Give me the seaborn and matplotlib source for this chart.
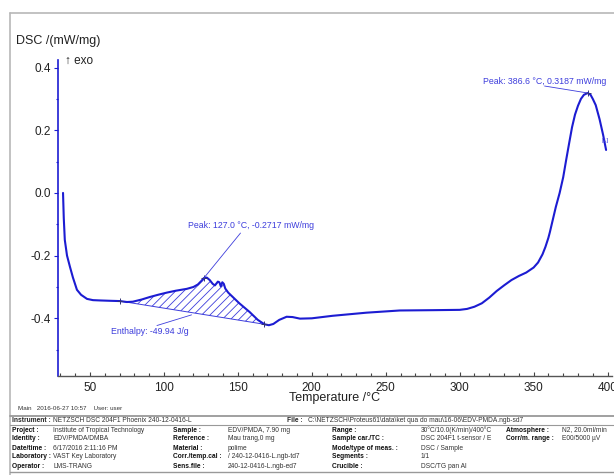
import matplotlib
matplotlib.use("Agg")
import matplotlib.pyplot as plt
import seaborn as sns
from matplotlib.lines import Line2D
from matplotlib.ticker import MultipleLocator

# DSC curve
temperature = [31.8, 32.3, 33.0, 34.5, 36.5, 38.5, 41.2, 44, 48, 52, 56.8, 63, 70.3, 75, 79, 85,
               90.5, 96, 102, 108, 115.5, 120, 123, 125.5, 127, 129, 131, 133, 134.5, 136.5,
               137.5, 138.5, 139.5, 140.5, 141.5, 143.5, 146.8, 151, 155, 158, 163.5, 168, 171,
               174, 178, 183, 187, 192, 200, 214, 237, 259.5, 282, 300, 305, 310, 315, 320, 325,
               330, 335, 340, 345, 350, 353, 356, 358, 360, 361, 363, 365, 367.6, 370, 372, 374,
               376, 378, 380, 382, 384, 386.6, 388.5, 390, 392, 394.6, 397, 399]
dsc = [0.00, -0.08, -0.15, -0.20, -0.236, -0.27, -0.309, -0.325, -0.338, -0.342, -0.343, -0.344,
       -0.345, -0.348, -0.347, -0.340, -0.332, -0.325, -0.318, -0.312, -0.306, -0.300, -0.292,
       -0.280, -0.2717, -0.270, -0.278, -0.290, -0.295, -0.283, -0.285, -0.298, -0.285, -0.290,
       -0.305, -0.318, -0.333, -0.352, -0.368, -0.380, -0.405, -0.419, -0.422, -0.418, -0.405,
       -0.395, -0.396, -0.401, -0.400, -0.392, -0.382, -0.375, -0.374, -0.373, -0.370, -0.363,
       -0.352, -0.334, -0.313, -0.295, -0.278, -0.265, -0.254, -0.238, -0.222, -0.196, -0.172,
       -0.143, -0.125, -0.085, -0.045, 0.000, 0.050, 0.105, 0.158, 0.210, 0.250, 0.278, 0.300,
       0.313, 0.3187, 0.313, 0.300, 0.280, 0.235, 0.185, 0.137]

# evaluation points
base_start = (70.3, -0.345)
base_end = (168.0, -0.419)
peak1 = (127.0, -0.2717)
peak2 = (386.6, 0.3187)

xticks = [50, 100, 150, 200, 250, 300, 350, 400]
yticks = [-0.4, -0.2, 0.0, 0.2, 0.4]

info_rows = [
    ("Project :", "Institute of Tropical Technology", "Sample :", "EDV/PMDA, 7.90 mg",
     "Range :", "30°C/10.0(K/min)/400°C", "Atmosphere :", "N2, 20.0ml/min"),
    ("Identity :", "EDV/PMDA/DMBA", "Reference :", "Mau trang,0 mg",
     "Sample car./TC :", "DSC 204F1 t-sensor / E", "Corr/m. range :", "E00/5000 µV"),
    ("Date/time :", "6/17/2016 2:11:16 PM", "Material :", "polime",
     "Mode/type of meas. :", "DSC / Sample", "", ""),
    ("Laboratory :", "VAST Key Laboratory", "Corr./temp.cal :", "/ 240-12-0416-L.ngb-td7",
     "Segments :", "1/1", "", ""),
    ("Operator :", "LMS-TRANG", "Sens.file :", "240-12-0416-L.ngb-ed7",
     "Crucible :", "DSC/TG pan Al", "", ""),
]

sns.set_style("ticks")
plt.rcParams["font.family"] = ["Liberation Sans", "DejaVu Sans"]

curve_color = "#1c1cd2"
note_color = "#3d3ddc"
W, H = 614, 475

fig = plt.figure(figsize=(6.14, 4.75), dpi=100)
ax = fig.add_axes([58 / W, 1 - 376 / H, 554 / W, 316 / H])

# hatched enthalpy area between curve and linear baseline
seg_t = [t for t in temperature if base_start[0] <= t <= base_end[0]]
seg_v = [v for t, v in zip(temperature, dsc) if base_start[0] <= t <= base_end[0]]
slope = (base_end[1] - base_start[1]) / (base_end[0] - base_start[0])
seg_b = [base_start[1] + slope * (t - base_start[0]) for t in seg_t]
plt.rcParams["hatch.linewidth"] = 0.6
ax.fill_between(seg_t, seg_v, seg_b, facecolor="none", edgecolor=note_color,
                hatch="////", linewidth=0)
ax.plot([base_start[0], base_end[0]], [base_start[1], base_end[1]], color=note_color, lw=0.7)

sns.lineplot(x=temperature, y=dsc, ax=ax, color=curve_color, linewidth=1.5,
             sort=False, estimator=None)

for px, py in [base_start, base_end, peak1, peak2]:
    ax.plot(px, py, marker="+", color="#333377", markersize=5, mew=0.7)

ax.text(116.2, -0.104, "Peak: 127.0 °C, -0.2717 mW/mg", color=note_color, fontsize=6.3,
        va="center", ha="left")
ax.plot([151.8, peak1[0]], [-0.128, peak1[1]], color=note_color, lw=0.6)
ax.text(315.5, 0.354, "Peak: 386.6 °C, 0.3187 mW/mg", color=note_color, fontsize=6.3,
        va="center", ha="left")
ax.plot([357.4, peak2[0]], [0.341, peak2[1]], color=note_color, lw=0.6)
ax.text(64.2, -0.4425, "Enthalpy: -49.94 J/g", color=note_color, fontsize=6.3,
        va="center", ha="left")
ax.plot([95.3, 118.7], [-0.423, -0.389], color=note_color, lw=0.6)
ax.text(398, 0.166, "[1]", color=note_color, fontsize=4.5, va="center", ha="center")

ax.set_xlim(28.4, 403)
ax.set_ylim(-0.584, 0.424)
ax.set_xticks(xticks)
ax.set_yticks(yticks)
ax.set_yticklabels([f"{v:.1f}" for v in yticks])
ax.xaxis.set_minor_locator(MultipleLocator(10))
ax.yaxis.set_minor_locator(MultipleLocator(0.1))
ax.tick_params(axis="x", which="both", direction="in", colors="#444444",
               labelcolor="#222222", labelsize=8.5, length=3, width=0.8, pad=4)
ax.tick_params(axis="x", which="minor", length=2)
ax.tick_params(axis="y", which="both", direction="out", colors=curve_color,
               labelcolor="#222222", labelsize=8.5, length=3, width=0.8, pad=2)
ax.tick_params(axis="y", which="minor", length=1.5)
sns.despine(ax=ax)
ax.spines["left"].set_color(curve_color)
ax.spines["left"].set_linewidth(1.2)
ax.spines["bottom"].set_color("#555555")
ax.spines["bottom"].set_linewidth(1.0)
ax.set_xlabel("Temperature /°C", fontsize=9, color="#222222", labelpad=-1)
ax.set_ylabel("")

fig.text(16 / W, 1 - 41 / H, "DSC /(mW/mg)", fontsize=9, color="#222222", va="center")
fig.text(65 / W, 1 - 61 / H, "↑ exo", fontsize=8.5, color="#222222", va="center")

# outer frame
fig.add_artist(Line2D([10 / W, 1], [1 - 13 / H, 1 - 13 / H], transform=fig.transFigure,
                      color="#b8b8b8", lw=1.2))
fig.add_artist(Line2D([10 / W, 10 / W], [0, 1 - 13 / H], transform=fig.transFigure,
                      color="#b8b8b8", lw=1.2))

fig.text(18 / W, 1 - 408 / H, "Main   2016-06-27 10:57    User: user", fontsize=4.5,
         color="#333333", va="center")

# information table
for yy, lw in [(416, 1.3), (425, 0.8), (472, 1.0)]:
    fig.add_artist(Line2D([10 / W, 1], [1 - yy / H, 1 - yy / H], transform=fig.transFigure,
                          color="#999999", lw=lw))

fs = 4.8
fig.text(12 / W, 1 - 420.5 / H, "Instrument :", fontsize=fs, weight="bold", va="center")
fig.text(53 / W, 1 - 420.5 / H, "NETZSCH DSC 204F1 Phoenix 240-12-0416-L", fontsize=fs,
         va="center", color="#333333")
fig.text(303 / W, 1 - 420.5 / H, "File :", fontsize=fs, weight="bold", va="center", ha="right")
fig.text(308 / W, 1 - 420.5 / H,
         "C:\\NETZSCH\\Proteus61\\data\\ket qua do mau\\16-06\\EDV-PMDA.ngb-sd7",
         fontsize=fs, va="center", color="#333333")

col_x = [12, 53, 173, 228, 332, 421, 506, 562]
row_y = [430, 439, 448, 457, 466]
for yy, row in zip(row_y, info_rows):
    for i, (cx, txt) in enumerate(zip(col_x, row)):
        fig.text(cx / W, 1 - yy / H, txt, fontsize=fs, va="center",
                 weight="bold" if i % 2 == 0 else "normal",
                 color="#111111" if i % 2 == 0 else "#333333")

fig.savefig("out.png", dpi=100)
